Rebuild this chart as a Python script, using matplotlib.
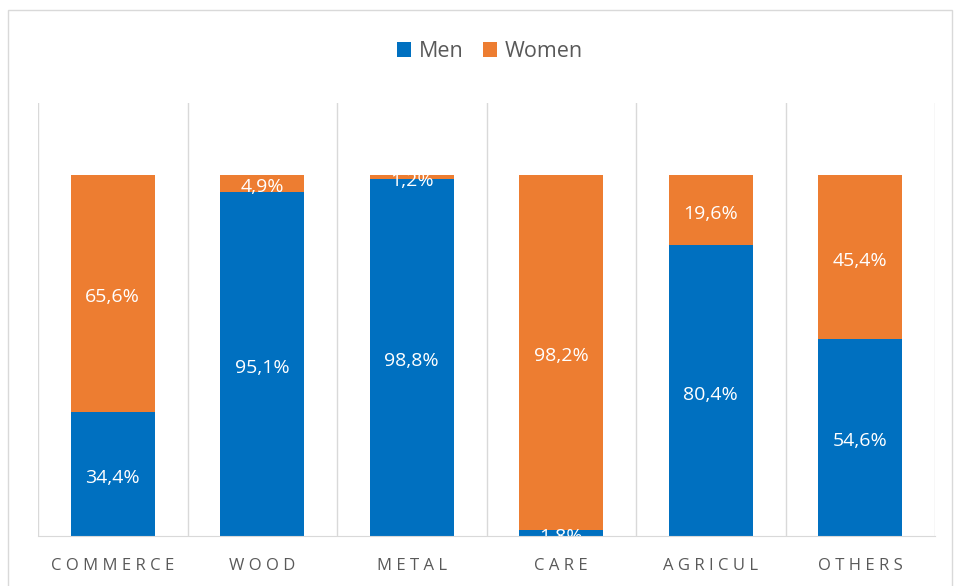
import matplotlib.pyplot as plt
from matplotlib.patches import Rectangle

categories = ['COMMERCE', 'WOOD', 'METAL', 'CARE', 'AGRICUL', 'OTHERS']
men = [34.4, 95.1, 98.8, 1.8, 80.4, 54.6]
women = [65.6, 4.9, 1.2, 98.2, 19.6, 45.4]

blue = '#0070c0'
orange = '#ed7d31'
grey = '#595959'
plt.rcParams['font.family'] = ['Open Sans', 'DejaVu Sans']


def pct(v):
    return f'{v:.1f}%'.replace('.', ',')


def main():
    fig = plt.figure(figsize=(9.55, 5.86), dpi=100)
    ax = fig.add_axes([0.0398, 0.0853, 0.9393, 0.739])
    fig.patches.append(Rectangle((0.008, -0.01), 0.989, 0.993, transform=fig.transFigure,
                                 fill=False, edgecolor='#d9d9d9', linewidth=1))

    x = list(range(len(categories)))
    bm = ax.bar(x, men, width=0.56, color=blue, label='Men', zorder=2)
    bw = ax.bar(x, women, width=0.56, bottom=men, color=orange, label='Women', zorder=2)

    # labels sit a touch below the segment centre, as in the original
    for i in x:
        ax.text(i, men[i] / 2 - 1.1, pct(men[i]), ha='center', va='center', color='white',
                fontsize=14, clip_on=True, zorder=3)
        ax.text(i, men[i] + women[i] / 2 - 1.1, pct(women[i]), ha='center', va='center',
                color='white', fontsize=14, clip_on=True, zorder=3)

    ax.set_xlim(-0.5, len(categories) - 0.5)
    ax.set_ylim(0, 119.8)
    for b in range(len(categories) + 1):
        ax.axvline(b - 0.5, color='#d9d9d9', linewidth=1, zorder=1)

    for s in ['top', 'right', 'left']:
        ax.spines[s].set_visible(False)
    ax.spines['bottom'].set_color('#d9d9d9')
    ax.set_yticks([])
    ax.set_xticks(x)
    ax.set_xticklabels([' '.join(c) for c in categories], color=grey, fontsize=12)
    ax.tick_params(axis='x', length=0, pad=16)

    fig.legend(handles=[bm, bw], loc='center', bbox_to_anchor=(0.513, 0.912), ncol=2,
               frameon=False, fontsize=15.5, handlelength=0.65, handleheight=0.65,
               handletextpad=0.35, columnspacing=0.9, labelcolor=grey)

    fig.savefig('out.png', dpi=100)


if __name__ == '__main__':
    main()
